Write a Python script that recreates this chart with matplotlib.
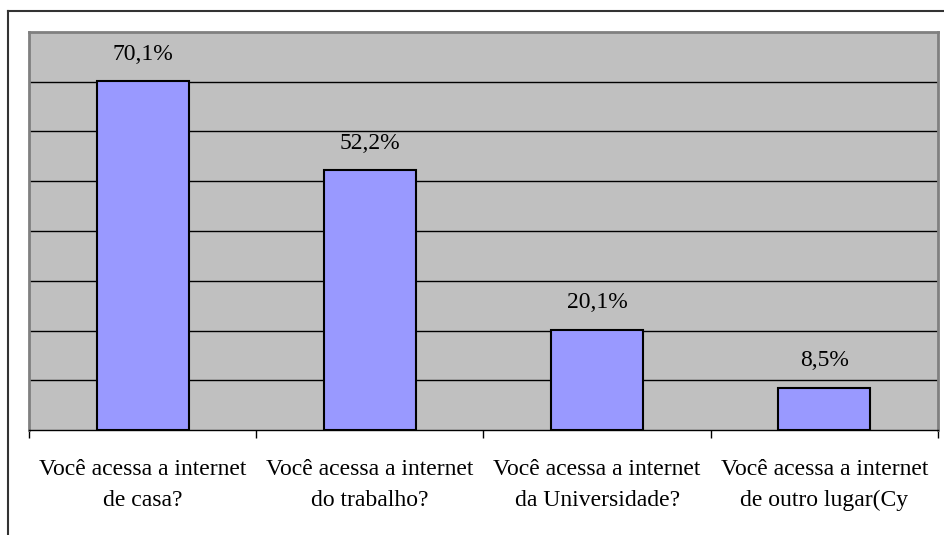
import matplotlib.pyplot as plt
from matplotlib.lines import Line2D

categories = ['Você acessa a internet\nde casa?',
              'Você acessa a internet\ndo trabalho?',
              'Você acessa a internet\nda Universidade?',
              'Você acessa a internet\nde outro lugar(Cy']
values = [70.1, 52.2, 20.1, 8.5]
value_labels = ['70,1%', '52,2%', '20,1%', '8,5%']

plt.rcParams['font.family'] = ['Liberation Serif', 'DejaVu Serif']

fig = plt.figure(figsize=(9.45, 5.35), dpi=100)
ax = fig.add_axes([29 / 945, 105 / 535, 909 / 945, 398 / 535])
ax.set_facecolor('#c0c0c0')

x = range(len(values))
ax.bar(x, values, width=0.405, color='#9999ff', edgecolor='black', linewidth=1.5, zorder=3)
for xi, v, lab in zip(x, values, value_labels):
    ax.annotate(lab, (xi, v), xytext=(0, 12), textcoords='offset points',
                ha='center', va='bottom', fontsize=17)

ax.set_xlim(-0.5, 3.5)
ax.set_ylim(0, 80)
ax.set_yticks(range(10, 80, 10))
ax.yaxis.grid(True, color='black', linewidth=1)
ax.set_axisbelow(True)
ax.tick_params(axis='y', left=False, labelleft=False)

ax.set_xticks([i - 0.5 for i in range(5)], minor=False)
ax.set_xticklabels([])
ax.set_xticks(list(x), minor=True)
ax.set_xticklabels(categories, minor=True, fontsize=17, linespacing=1.6)
ax.tick_params(axis='x', which='major', length=6, width=1, direction='out')
ax.tick_params(axis='x', which='minor', length=0, pad=21)

for side in ['top', 'left', 'right']:
    ax.spines[side].set_color('#808080')
    ax.spines[side].set_linewidth(2)
ax.spines['bottom'].set_color('black')
ax.spines['bottom'].set_linewidth(1)

# outer chart frame (only left and top edges are visible)
fig.add_artist(Line2D([8 / 945, 8 / 945], [0, 1 - 11 / 535], color='#333333', linewidth=1.5))
fig.add_artist(Line2D([8 / 945, 1], [1 - 11 / 535, 1 - 11 / 535], color='#333333', linewidth=1.5))

fig.savefig('out.png', dpi=100)
